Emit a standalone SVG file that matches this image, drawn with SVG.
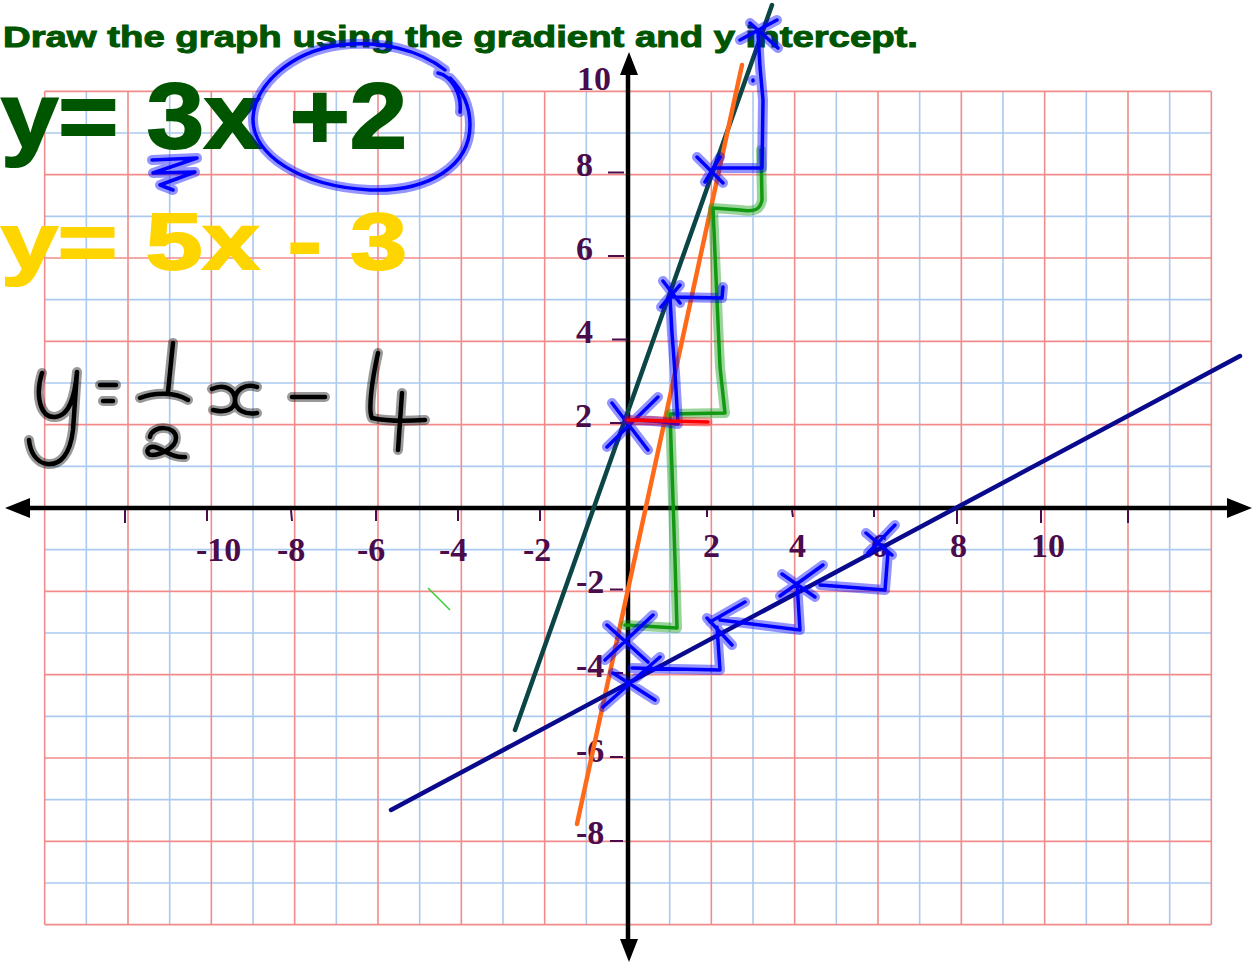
<svg xmlns="http://www.w3.org/2000/svg" xmlns:xlink="http://www.w3.org/1999/xlink" width="1257" height="963" viewBox="0 0 1257 963">
<style>
.gb{stroke:#abcaef;stroke-width:1.6}
.gr{stroke:#f28c8c;stroke-width:1.6}
.ax{stroke:#000;stroke-width:4.5}
.tk{stroke:#4b0c4b;stroke-width:2}
.lbl{font-family:"Liberation Serif","Times New Roman",serif;font-weight:bold;font-size:34px;fill:#4b0c4b}
.big{font-family:"Liberation Sans",Arial,sans-serif;font-weight:bold}
.bhalo{fill:none;stroke:#0000ff;stroke-opacity:0.42;stroke-width:10;stroke-linecap:round;stroke-linejoin:round}
.bpen{fill:none;stroke:#0000ff;stroke-width:3.5;stroke-linecap:round;stroke-linejoin:round}
.ghalo{fill:none;stroke:#119911;stroke-opacity:0.42;stroke-width:10;stroke-linecap:round;stroke-linejoin:round}
.gpen{fill:none;stroke:#119911;stroke-width:3.5;stroke-linecap:round;stroke-linejoin:round}
.khalo{fill:none;stroke:#000;stroke-opacity:0.4;stroke-width:10;stroke-linecap:round;stroke-linejoin:round}
.kpen{fill:none;stroke:#000;stroke-width:4.5;stroke-linecap:round;stroke-linejoin:round}
.rhalo{fill:none;stroke:#ff0000;stroke-opacity:0.35;stroke-width:9;stroke-linecap:round}
.rpen{fill:none;stroke:#ff0000;stroke-width:3.5;stroke-linecap:round}
.gl{fill:none;stroke-width:4.5;stroke-linecap:round}
</style>
<defs>
<path id="blueMarks" d="M612,403 L648,450 M658,397 L607,447 M630,420 C650,420 665,422 678,424 L675,373 L672,333 L670,297 M663,281 L680,303 M661,307 L680,285 M672,297 L722,298 L723,287 M697,157 L723,183 M720,157 L705,182 M713,168 L762,168 L763,100 L760,67 L758,33 M740,40 L777,20 M750,23 L778,48 M753,80 L753,81 M607,625 L648,662 M653,615 L605,660 M603,707 L660,657 M613,673 L655,700 M632,668 L720,670 L717,627 M745,602 L710,622 M707,618 L732,645 M720,620 L800,630 L797,583 M782,574 L815,597 M780,596 L823,565 M820,585 L885,590 L888,552 M866,533 L892,555 M895,525 L868,553 M445,70 C420,50 380,40 340,45 C290,52 255,85 253,118 C252,155 300,186 370,190 C430,192 470,165 470,125 C470,105 462,90 450,78 M438,73 C452,76 462,95 460,112 M152,160 L197,158 L153,173 L195,172 L160,185 L173,190"/>
<path id="greenMarks" d="M761,150 L762,200 C760,210 755,212 740,210 L713,208 L717,300 L720,367 L725,413 L670,414 L672,470 L675,560 L677,628 L625,625"/>
<path id="blackMarks" d="M42,373 C35,395 40,418 55,417 C70,416 75,395 77,372 L73,430 C70,455 60,465 48,464 C35,463 30,450 29,440 M100,385 L116,385 M103,401 L113,401 M173,343 L168,392 M140,398 C155,392 175,392 188,400 M150,437 C152,425 176,425 176,438 C176,448 160,455 152,455 C145,455 146,445 155,447 C165,450 172,458 185,457 M212,389 C225,383 235,390 235,400 C235,410 225,413 213,410 M257,387 C245,383 235,390 235,400 C235,410 245,415 257,413 M292,397 L325,397 M378,353 C372,380 368,410 372,418 C390,422 410,421 425,420 M402,393 L398,450"/>
</defs>
<g id="grid">
<g class="gb">
<line x1="86.33" y1="91.33" x2="86.33" y2="924.67"/><line x1="169.67" y1="91.33" x2="169.67" y2="924.67"/><line x1="253" y1="91.33" x2="253" y2="924.67"/><line x1="336.33" y1="91.33" x2="336.33" y2="924.67"/><line x1="419.67" y1="91.33" x2="419.67" y2="924.67"/><line x1="503" y1="91.33" x2="503" y2="924.67"/><line x1="586.33" y1="91.33" x2="586.33" y2="924.67"/><line x1="669.67" y1="91.33" x2="669.67" y2="924.67"/><line x1="753" y1="91.33" x2="753" y2="924.67"/><line x1="836.33" y1="91.33" x2="836.33" y2="924.67"/><line x1="919.67" y1="91.33" x2="919.67" y2="924.67"/><line x1="1003" y1="91.33" x2="1003" y2="924.67"/><line x1="1086.33" y1="91.33" x2="1086.33" y2="924.67"/><line x1="1169.67" y1="91.33" x2="1169.67" y2="924.67"/>
<line x1="44.67" y1="133" x2="1211.33" y2="133"/><line x1="44.67" y1="216.33" x2="1211.33" y2="216.33"/><line x1="44.67" y1="299.67" x2="1211.33" y2="299.67"/><line x1="44.67" y1="383" x2="1211.33" y2="383"/><line x1="44.67" y1="466.33" x2="1211.33" y2="466.33"/><line x1="44.67" y1="549.67" x2="1211.33" y2="549.67"/><line x1="44.67" y1="633" x2="1211.33" y2="633"/><line x1="44.67" y1="716.33" x2="1211.33" y2="716.33"/><line x1="44.67" y1="799.67" x2="1211.33" y2="799.67"/><line x1="44.67" y1="883" x2="1211.33" y2="883"/>
</g>
<g class="gr">
<line x1="44.67" y1="91.33" x2="44.67" y2="924.67"/><line x1="128" y1="91.33" x2="128" y2="924.67"/><line x1="211.33" y1="91.33" x2="211.33" y2="924.67"/><line x1="294.67" y1="91.33" x2="294.67" y2="924.67"/><line x1="378" y1="91.33" x2="378" y2="924.67"/><line x1="461.33" y1="91.33" x2="461.33" y2="924.67"/><line x1="544.67" y1="91.33" x2="544.67" y2="924.67"/><line x1="711.33" y1="91.33" x2="711.33" y2="924.67"/><line x1="794.67" y1="91.33" x2="794.67" y2="924.67"/><line x1="878" y1="91.33" x2="878" y2="924.67"/><line x1="961.33" y1="91.33" x2="961.33" y2="924.67"/><line x1="1044.67" y1="91.33" x2="1044.67" y2="924.67"/><line x1="1128" y1="91.33" x2="1128" y2="924.67"/><line x1="1211.33" y1="91.33" x2="1211.33" y2="924.67"/>
<line x1="44.67" y1="91.33" x2="1211.33" y2="91.33"/><line x1="44.67" y1="174.67" x2="1211.33" y2="174.67"/><line x1="44.67" y1="258" x2="1211.33" y2="258"/><line x1="44.67" y1="341.33" x2="1211.33" y2="341.33"/><line x1="44.67" y1="424.67" x2="1211.33" y2="424.67"/><line x1="44.67" y1="591.33" x2="1211.33" y2="591.33"/><line x1="44.67" y1="674.67" x2="1211.33" y2="674.67"/><line x1="44.67" y1="758" x2="1211.33" y2="758"/><line x1="44.67" y1="841.33" x2="1211.33" y2="841.33"/><line x1="44.67" y1="924.67" x2="1211.33" y2="924.67"/>
</g>
</g>
<g id="axes">
<line class="ax" x1="28" y1="508" x2="1230" y2="508"/>
<line class="ax" x1="628" y1="73" x2="628" y2="942"/>
<polygon points="5,508 30,498 30,518" fill="#000"/>
<polygon points="1252,508 1227,498 1227,518" fill="#000"/>
<polygon points="629,52 620,75 638,75" fill="#000"/>
<polygon points="629,962 620,939 638,939" fill="#000"/>
<g class="tk">
<line x1="125" y1="510" x2="125" y2="523"/><line x1="207" y1="510" x2="207" y2="521"/><line x1="291" y1="510" x2="292" y2="521"/><line x1="376" y1="510" x2="376" y2="521"/><line x1="458" y1="510" x2="458" y2="521"/><line x1="540" y1="510" x2="540" y2="521"/><line x1="707" y1="510" x2="707" y2="517"/><line x1="792" y1="510" x2="793" y2="517"/><line x1="874" y1="510" x2="874" y2="517"/><line x1="957" y1="510" x2="957" y2="524"/><line x1="1041" y1="510" x2="1041" y2="523"/><line x1="1128" y1="510" x2="1128" y2="523"/>
<line x1="608" y1="172.5" x2="624" y2="172.5"/><line x1="608" y1="256" x2="624" y2="256"/><line x1="612" y1="339.5" x2="627" y2="339.5"/><line x1="610" y1="423" x2="625" y2="423"/><line x1="610" y1="589.5" x2="623" y2="589.5"/><line x1="610" y1="673" x2="623" y2="673"/><line x1="610" y1="757" x2="623" y2="757"/><line x1="610" y1="841" x2="623" y2="841"/>
</g>
</g>
<g id="axis-labels" class="lbl">
<text x="196" y="561">-10</text><text x="277" y="561">-8</text><text x="357" y="561">-6</text><text x="439" y="561">-4</text><text x="523" y="561">-2</text>
<text x="703" y="557">2</text><text x="789" y="557">4</text><text x="871" y="557">6</text><text x="950" y="557">8</text><text x="1031" y="557">10</text>
<text x="577" y="90">10</text><text x="576" y="176">8</text><text x="576" y="260">6</text><text x="576" y="343">4</text><text x="575" y="427">2</text>
<text x="576" y="593">-2</text><text x="576" y="677">-4</text><text x="576" y="762">-6</text><text x="576" y="844">-8</text>
</g>
<g id="title">
<text class="big" x="3" y="47" font-size="30" fill="#005500" stroke="#005500" stroke-width="1" textLength="915" lengthAdjust="spacingAndGlyphs">Draw the graph using the gradient and y intercept.</text>
</g>
<g id="eq1">
<text class="big" x="1" y="148" font-size="92" fill="#005500" stroke="#005500" stroke-width="2" textLength="406" lengthAdjust="spacingAndGlyphs">y= 3x +2</text>
</g>
<g id="eq2">
<text class="big" x="1" y="269" font-size="80" fill="#ffd500" stroke="#ffd500" stroke-width="2" textLength="406" lengthAdjust="spacingAndGlyphs">y= 5x - 3</text>
</g>
<g id="eq3">
<use xlink:href="#blackMarks" class="khalo"/>
<use xlink:href="#blackMarks" class="kpen"/>
</g>
<g id="connectors">
<line class="gl" x1="515" y1="730" x2="772" y2="5" stroke="#0b4545"/>
<line class="gl" x1="577" y1="824" x2="742" y2="65" stroke="#ff6a1a"/>
<line class="gl" x1="391" y1="810" x2="1240" y2="356" stroke="#0a0a8c"/>
</g>
<g id="annotations">
<use xlink:href="#greenMarks" class="ghalo"/>
<use xlink:href="#greenMarks" class="gpen"/>
<use xlink:href="#blueMarks" class="bhalo"/>
<use xlink:href="#blueMarks" class="bpen"/>
<path class="rhalo" d="M628,420 L708,422"/>
<path class="rpen" d="M628,420 L708,422"/>
<line x1="428" y1="588" x2="450" y2="610" stroke="#33cc33" stroke-width="1.5"/>
</g>
</svg>
